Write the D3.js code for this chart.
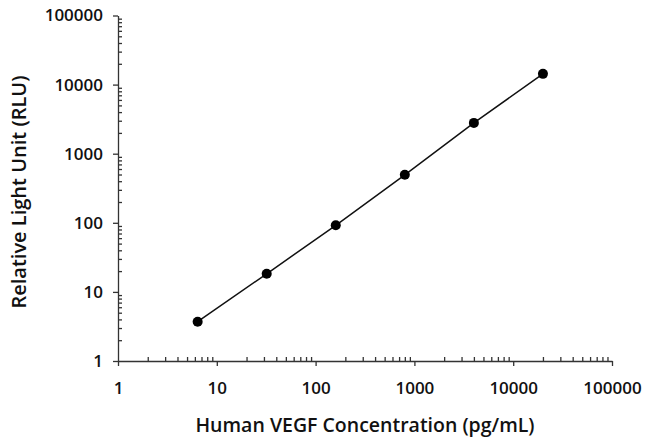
<!DOCTYPE html>
<html>
<head>
<meta charset="utf-8">
<script src="https://cdn.jsdelivr.net/npm/d3@7"></script>
<style>
  html, body { margin: 0; padding: 0; background: #fff; }
  svg { display: block; font-family: "Open Sans", sans-serif; }
  .axis text { font-family: "Open Sans", sans-serif; font-weight: 600; font-size: 17px; fill: #111; }
  .axis line, .axis path { stroke: #333; stroke-width: 1.3; }
  .title { font-weight: 600; fill: #111; }
</style>
</head>
<body>
<div id="chart"></div>
<script>
// concentration (pg/mL) vs signal (RLU)
const concentration = [6.4, 32, 160, 800, 4000, 20000];
const rlu = [3.7, 18.3, 92, 495, 2790, 14300];
const majorTicks = [1, 10, 100, 1000, 10000, 100000];
const xTitle = "Human VEGF Concentration (pg/mL)";
const yTitle = "Relative Light Unit (RLU)";

const width = 650, height = 447;
const margin = { top: 15.5, right: 38, bottom: 86, left: 118 };
const innerW = width - margin.left - margin.right;
const innerH = height - margin.top - margin.bottom;

const data = concentration.map((c, i) => ({ x: c, y: rlu[i] }));

// minor ticks 2..9 in every decade
const minorTicks = [];
majorTicks.slice(0, -1).forEach(m => {
  for (let k = 2; k <= 9; k++) minorTicks.push(m * k);
});

const svg = d3.select("#chart").append("svg")
  .attr("width", width)
  .attr("height", height);

const g = svg.append("g")
  .attr("transform", `translate(${margin.left},${margin.top})`);

const x = d3.scaleLog().domain([1, 100000]).range([0, innerW]);
const y = d3.scaleLog().domain([1, 100000]).range([innerH, 0]);

// x axis: major ticks out, minor ticks in
const xg = g.append("g")
  .attr("class", "axis")
  .attr("transform", `translate(0,${innerH})`);
xg.call(d3.axisBottom(x).tickValues(majorTicks).tickFormat(d3.format("d"))
  .tickSizeInner(5).tickSizeOuter(0).tickPadding(16));
xg.append("g")
  .call(d3.axisTop(x).tickValues(minorTicks).tickFormat("").tickSizeInner(4).tickSizeOuter(0))
  .select(".domain").remove();

// y axis
const yg = g.append("g").attr("class", "axis");
yg.call(d3.axisLeft(y).tickValues(majorTicks).tickFormat(d3.format("d"))
  .tickSizeInner(5).tickSizeOuter(0).tickPadding(10));
yg.append("g")
  .call(d3.axisRight(y).tickValues(minorTicks).tickFormat("").tickSizeInner(4).tickSizeOuter(0))
  .select(".domain").remove();

// line through the standards
g.append("path")
  .datum(data)
  .attr("fill", "none")
  .attr("stroke", "#111")
  .attr("stroke-width", 1.5)
  .attr("d", d3.line().x(d => x(d.x)).y(d => y(d.y)));

g.selectAll("circle.pt")
  .data(data)
  .join("circle")
  .attr("class", "pt")
  .attr("cx", d => x(d.x))
  .attr("cy", d => y(d.y))
  .attr("r", 5)
  .attr("fill", "#000");

// axis titles
svg.append("text")
  .attr("class", "title")
  .attr("x", margin.left + innerW / 2)
  .attr("y", 432)
  .attr("text-anchor", "middle")
  .style("font-size", "19.5px")
  .text(xTitle);

svg.append("text")
  .attr("class", "title")
  .attr("transform", "translate(26,192) rotate(-90)")
  .attr("text-anchor", "middle")
  .style("font-size", "20px")
  .text(yTitle);
</script>
</body>
</html>
